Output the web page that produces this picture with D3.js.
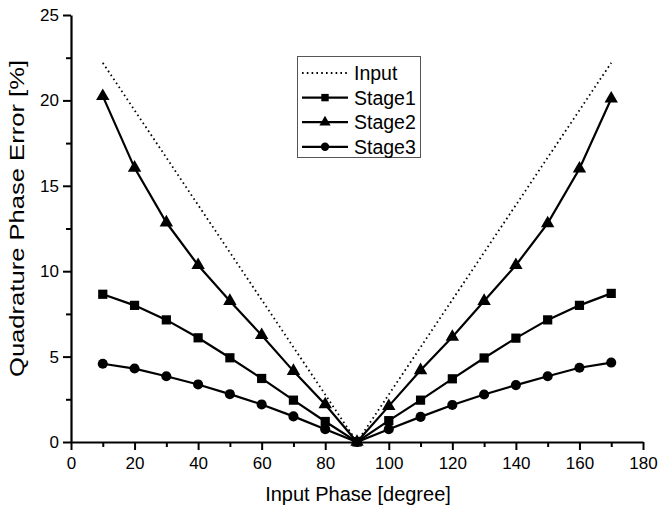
<!DOCTYPE html>
<html>
<head>
<meta charset="utf-8">
<script src="https://cdn.jsdelivr.net/npm/d3@7"></script>
<style>
  body { margin: 0; background: #fff; }
  svg text { font-family: "Liberation Sans", Arial, sans-serif; fill: #000; }
</style>
</head>
<body>
<div id="chart"></div>
<script>
"use strict";

var width = 659;
var height = 510;

// phases where the stages were measured
var phases = [10, 20, 30, 40, 50, 60, 70, 80, 90, 100, 110, 120, 130, 140, 150, 160, 170];

var inputPhases = [10, 90, 170];
var inputError = [22.2, 0, 22.2];

var stage1 = [8.65, 8.0, 7.15, 6.1, 4.93, 3.72, 2.45, 1.2, 0, 1.25, 2.45, 3.7, 4.92, 6.08, 7.15, 8.0, 8.7];
var stage2 = [20.25, 16.05, 12.85, 10.35, 8.25, 6.25, 4.15, 2.2, 0, 2.1, 4.2, 6.15, 8.25, 10.35, 12.8, 16.0, 20.1];
var stage3 = [4.58, 4.3, 3.85, 3.37, 2.8, 2.2, 1.5, 0.75, 0, 0.75, 1.47, 2.17, 2.78, 3.33, 3.85, 4.35, 4.65];

var xTicks = [0, 20, 40, 60, 80, 100, 120, 140, 160, 180];
var xMinor = [10, 30, 50, 70, 90, 110, 130, 150, 170];
var yTicks = [0, 5, 10, 15, 20, 25];
var yMinor = [2.5, 7.5, 12.5, 17.5, 22.5];

var margin = {left: 71, right: 16, top: 15, bottom: 68};

var x = d3.scaleLinear().domain([0, 180]).range([margin.left, width - margin.right]);
var y = d3.scaleLinear().domain([0, 25]).range([height - margin.bottom, margin.top]);

var svg = d3.select("#chart").append("svg")
    .attr("width", width)
    .attr("height", height);

// axes: major ticks with labels, minor ticks in between
svg.append("g")
    .attr("transform", "translate(0," + y(0) + ")")
    .call(d3.axisBottom(x).tickValues(xTicks).tickSize(8).tickSizeOuter(0).tickPadding(7).tickFormat(d3.format("d")));
svg.append("g")
    .attr("transform", "translate(0," + y(0) + ")")
    .call(d3.axisBottom(x).tickValues(xMinor).tickSize(5).tickFormat(""))
    .select(".domain").remove();

svg.append("g")
    .attr("transform", "translate(" + x(0) + ",0)")
    .call(d3.axisLeft(y).tickValues(yTicks).tickSize(8).tickSizeOuter(0).tickPadding(4).tickFormat(d3.format("d")));
svg.append("g")
    .attr("transform", "translate(" + x(0) + ",0)")
    .call(d3.axisLeft(y).tickValues(yMinor).tickSize(5).tickFormat(""))
    .select(".domain").remove();

svg.selectAll(".domain").attr("stroke-width", 2.2).attr("stroke", "#000");
svg.selectAll(".tick line").attr("stroke-width", 2).attr("stroke", "#000");
svg.selectAll(".tick text")
    .attr("font-size", 17)
    .attr("font-family", "Liberation Sans, Arial, sans-serif");

// axis titles
svg.append("text")
    .attr("x", 358)
    .attr("y", 500.5)
    .attr("text-anchor", "middle")
    .attr("font-size", 20)
    .text("Input Phase [degree]");

svg.append("text")
    .attr("transform", "translate(24,218.5) rotate(-90)")
    .attr("text-anchor", "middle")
    .attr("font-size", 20)
    .attr("textLength", 317)
    .attr("lengthAdjust", "spacingAndGlyphs")
    .text("Quadrature Phase Error [%]");

// the input line (dotted)
var line = d3.line()
    .x(function(d) { return x(d[0]); })
    .y(function(d) { return y(d[1]); });

svg.append("path")
    .datum(d3.zip(inputPhases, inputError))
    .attr("fill", "none")
    .attr("stroke", "#000")
    .attr("stroke-width", 1.8)
    .attr("stroke-dasharray", "1.6,3.2")
    .attr("d", line);

var series = [
    {name: "Stage1", values: stage1, symbol: d3.symbolSquare, size: 85},
    {name: "Stage2", values: stage2, symbol: d3.symbolTriangle, size: 78},
    {name: "Stage3", values: stage3, symbol: d3.symbolCircle, size: 80}
];

series.forEach(function(s) {
    var pts = d3.zip(phases, s.values);
    svg.append("path")
        .datum(pts)
        .attr("fill", "none")
        .attr("stroke", "#000")
        .attr("stroke-width", 2.2)
        .attr("d", line);
    svg.append("g").selectAll("path")
        .data(pts)
        .enter().append("path")
        .attr("transform", function(d) { return "translate(" + x(d[0]) + "," + y(d[1]) + ")"; })
        .attr("d", d3.symbol().type(s.symbol).size(s.size))
        .attr("fill", "#000");
});

// legend
var legend = svg.append("g");
legend.append("rect")
    .attr("x", 297.5)
    .attr("y", 56.5)
    .attr("width", 123)
    .attr("height", 101)
    .attr("fill", "#fff")
    .attr("stroke", "#555")
    .attr("stroke-width", 1);

var legendItems = [{name: "Input", dotted: true}].concat(series);
legendItems.forEach(function(d, i) {
    var ly = 73 + i * 24.6;
    legend.append("line")
        .attr("x1", 302).attr("x2", 348)
        .attr("y1", ly).attr("y2", ly)
        .attr("stroke", "#000")
        .attr("stroke-width", d.dotted ? 1.8 : 2.2)
        .attr("stroke-dasharray", d.dotted ? "1.6,3.2" : null);
    if (d.symbol) {
        legend.append("path")
            .attr("transform", "translate(325," + ly + ")")
            .attr("d", d3.symbol().type(d.symbol).size(55))
            .attr("fill", "#000");
    }
    legend.append("text")
        .attr("x", 354)
        .attr("y", ly + 7)
        .attr("font-size", 19.5)
        .text(d.name);
});
</script>
</body>
</html>
